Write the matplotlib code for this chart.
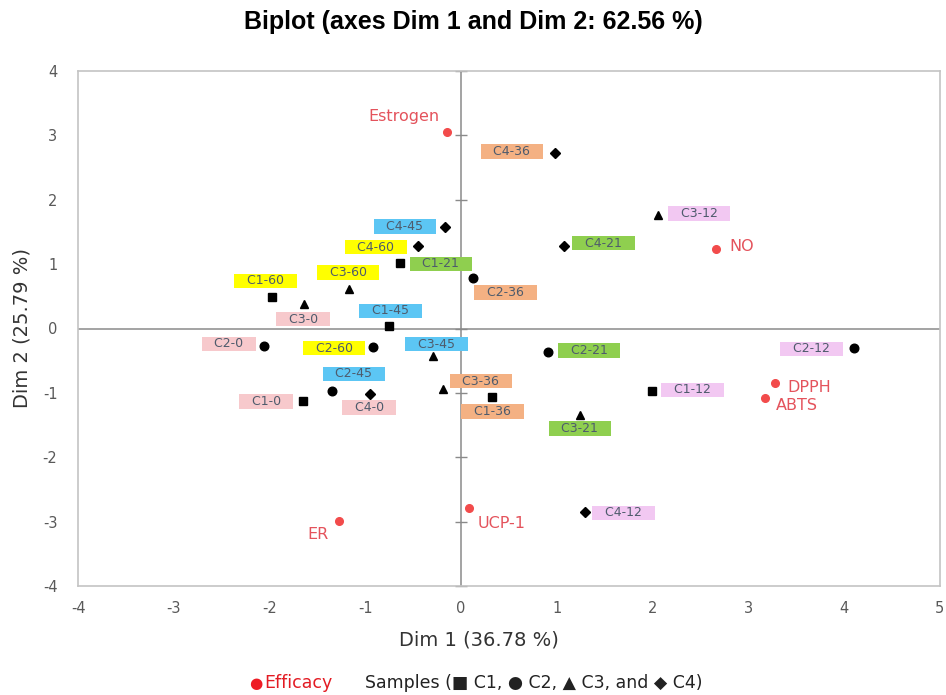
import matplotlib
matplotlib.use("Agg")
import matplotlib.pyplot as plt

plt.rcParams["axes.unicode_minus"] = False

# ---------------- data ----------------
sample_names = ["C1-60", "C1-21", "C1-45", "C1-0", "C1-36", "C1-12",
                "C2-36", "C2-0", "C2-60", "C2-45", "C2-21", "C2-12",
                "C3-60", "C3-0", "C3-45", "C3-36", "C3-21", "C3-12",
                "C4-36", "C4-45", "C4-60", "C4-21", "C4-0", "C4-12"]
sample_x = [-1.98, -0.64, -0.75, -1.65, 0.32, 2.00,
            0.12, -2.06, -0.92, -1.35, 0.91, 4.11,
            -1.17, -1.64, -0.29, -0.19, 1.24, 2.06,
            0.98, -0.17, -0.45, 1.08, -0.95, 1.30]
sample_y = [0.49, 1.02, 0.04, -1.12, -1.06, -0.97,
            0.78, -0.27, -0.29, -0.97, -0.36, -0.30,
            0.62, 0.38, -0.43, -0.94, -1.35, 1.77,
            2.72, 1.57, 1.28, 1.28, -1.01, -2.85]

efficacy_names = ["Estrogen", "NO", "DPPH", "ABTS", "ER", "UCP-1"]
efficacy_x = [-0.15, 2.66, 3.28, 3.18, -1.28, 0.08]
efficacy_y = [3.05, 1.23, -0.84, -1.08, -2.99, -2.79]

x_ticks = [-4, -3, -2, -1, 0, 1, 2, 3, 4, 5]
y_ticks = [-4, -3, -2, -1, 0, 1, 2, 3, 4]

title = "Biplot (axes Dim 1 and Dim 2: 62.56 %)"
x_label = "Dim 1 (36.78 %)"
y_label = "Dim 2 (25.79 %)"

# ---------------- layout / style ----------------
# label offsets (pixels: right, up) relative to the point
sample_offsets = {
    "C1-60": (-6, 16), "C1-21": (41, -1), "C1-45": (1, 15), "C1-0": (-37, -1),
    "C1-36": (1, -15), "C1-12": (40, 1),
    "C2-36": (33, -14), "C2-0": (-35, 2), "C2-60": (-39, -1), "C2-45": (22, 17),
    "C2-21": (41, 1), "C2-12": (-43, -1),
    "C3-60": (-1, 16), "C3-0": (-1, -15), "C3-45": (3, 12), "C3-36": (38, 8),
    "C3-21": (0, -13), "C3-12": (41, 1),
    "C4-36": (-43, 2), "C4-45": (-40, 1), "C4-60": (-42, -1), "C4-21": (39, 3),
    "C4-0": (-1, -14), "C4-12": (38, -1),
}
efficacy_offsets = {
    "Estrogen": (-43, 16, "center"), "NO": (14, 3, "left"), "DPPH": (12, -5, "left"),
    "ABTS": (11, -7, "left"), "ER": (-21, -14, "center"), "UCP-1": (33, -15, "center"),
}
box_colors = {"0": "#f7c9cc", "60": "#ffff00", "45": "#5cc6f4", "36": "#f4b183",
              "21": "#8fcf4f", "12": "#f2c8f2"}
markers = {"C1": ("s", 6.2), "C2": ("o", 6.2), "C3": ("^", 6.4), "C4": ("D", 4.8)}

W, H = 946, 695
fig = plt.figure(figsize=(W / 100, H / 100), dpi=100)
left, right, top, bottom = 78.3, 939.5, 71, 586
ax = fig.add_axes([left / W, 1 - bottom / H, (right - left) / W, (bottom - top) / H])
ax.set_xlim(x_ticks[0], x_ticks[-1])
ax.set_ylim(y_ticks[0], y_ticks[-1])
ax.set_xticks(x_ticks)
ax.set_yticks(y_ticks)
ax.tick_params(length=0, labelsize=10.5, labelcolor="#595959")
ax.tick_params(axis="y", pad=15)
ax.tick_params(axis="x", pad=11)
for s in ax.spines.values():
    s.set_color("#c4c4c4")
    s.set_linewidth(1.2)

ax.axhline(0, color="#8a8a8a", lw=1.1, zorder=1)
ax.axvline(0, color="#8a8a8a", lw=1.1, zorder=1)
ax.plot([0] * len(y_ticks), y_ticks, ls="none", marker="_", ms=9, mew=1.0,
        color="#8a8a8a", zorder=1, clip_on=False)

px = 0.72  # pixel -> points
for name, x, y in zip(sample_names, sample_x, sample_y):
    grp, suf = name.split("-")
    m, ms = markers[grp]
    ax.plot(x, y, marker=m, ms=ms, color="black", ls="none", zorder=4)
    dx, dy = sample_offsets[name]
    ax.annotate("   " + name + "   ", (x, y), xytext=(dx * px, dy * px),
                textcoords="offset points", ha="center", va="center",
                fontsize=9, color="#4e5b6c", zorder=3,
                bbox=dict(boxstyle="square,pad=0.06", fc=box_colors[suf], ec="none"))

for name, x, y in zip(efficacy_names, efficacy_x, efficacy_y):
    ax.plot(x, y, marker="o", ms=5.5, color="#f24b4b", ls="none", zorder=4)
    dx, dy, ha = efficacy_offsets[name]
    ax.annotate(name, (x, y), xytext=(dx * px, dy * px), textcoords="offset points",
                ha=ha, va="center", fontsize=11.5, color="#e4535c", zorder=3)

fig.text(473 / W, 1 - 22 / H, title, ha="center", va="center", fontsize=18,
         fontweight="bold", family="Liberation Sans")
fig.text(479 / W, 1 - 640 / H, x_label, ha="center", va="center", fontsize=14,
         color="#333333")
fig.text(22 / W, 1 - 328 / H, y_label, ha="center", va="center", fontsize=14,
         color="#333333", rotation=90)

# bottom legend
fig.text(256 / W, 1 - 684 / H, "\u25cf", ha="center", va="center", fontsize=11,
         color="#ee1c25")
fig.text(264 / W, 1 - 683 / H, "Efficacy", ha="left", va="center", fontsize=12.5,
         color="#e31b23")
fig.text(365 / W, 1 - 683 / H, "Samples (\u25a0 C1, \u25cf C2, \u25b2 C3, and \u25c6 C4)",
         ha="left", va="center", fontsize=12.5, color="#222222")

fig.savefig("out.png", dpi=100)
